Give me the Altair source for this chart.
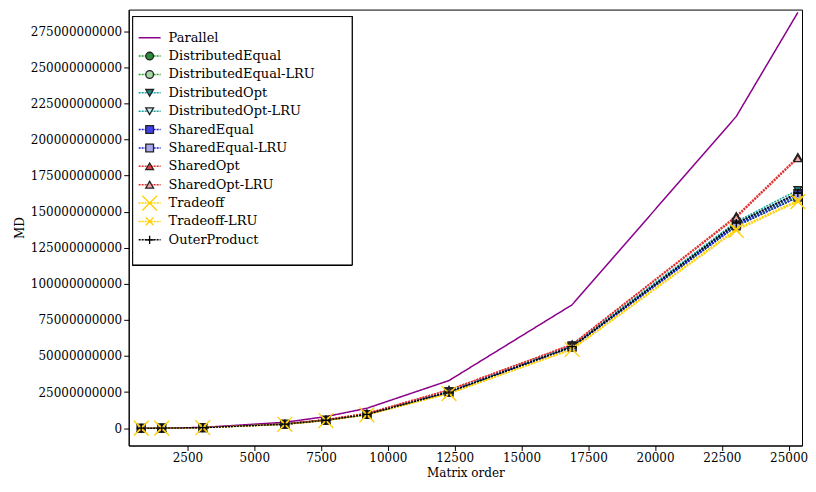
import altair as alt
import pandas as pd

orders = [768, 1536, 3072, 6144, 7680, 9216, 12288, 16896, 23040, 25344]

series = ["Parallel", "DistributedEqual", "DistributedEqual-LRU", "DistributedOpt",
          "DistributedOpt-LRU", "SharedEqual", "SharedEqual-LRU", "SharedOpt",
          "SharedOpt-LRU", "Tradeoff", "Tradeoff-LRU", "OuterProduct"]

values = {
    "Parallel":             [0.008, 0.064, 0.5, 4.1, 8.0, 13.8, 33.0, 85.5, 216.0, 288.0],
    "DistributedEqual":     [0.005, 0.04, 0.35, 2.8, 5.5, 9.5, 25.0, 56.5, 141.0, 161.0],
    "DistributedEqual-LRU": [0.005, 0.04, 0.35, 2.8, 5.5, 9.5, 25.0, 56.5, 140.0, 160.0],
    "DistributedOpt":       [0.005, 0.04, 0.36, 2.9, 5.7, 9.8, 25.5, 57.5, 143.0, 165.0],
    "DistributedOpt-LRU":   [0.005, 0.04, 0.36, 2.9, 5.7, 9.8, 25.5, 57.0, 142.0, 163.0],
    "SharedEqual":          [0.005, 0.04, 0.35, 2.8, 5.5, 9.5, 25.0, 56.5, 141.0, 162.0],
    "SharedEqual-LRU":      [0.005, 0.04, 0.35, 2.8, 5.5, 9.5, 25.0, 56.0, 140.0, 160.0],
    "SharedOpt":            [0.005, 0.04, 0.37, 3.0, 5.9, 10.2, 26.5, 58.0, 147.0, 188.0],
    "SharedOpt-LRU":        [0.005, 0.04, 0.37, 3.0, 5.9, 10.2, 26.5, 58.0, 146.0, 187.0],
    "Tradeoff":             [0.005, 0.04, 0.34, 2.7, 5.3, 9.2, 24.0, 54.5, 137.0, 157.0],
    "Tradeoff-LRU":         [0.005, 0.04, 0.34, 2.7, 5.3, 9.2, 24.0, 55.0, 138.0, 158.0],
    "OuterProduct":         [0.005, 0.04, 0.35, 2.8, 5.5, 9.5, 25.0, 56.5, 142.0, 163.0],
}

X_PATH = "M-1,-1L1,1M1,-1L-1,1"
PLUS_PATH = "M-1,0L1,0M0,-1L0,1"

strokes = ["#8b008b", "#2ca02c", "#2ca02c", "#17a2a2", "#17a2a2", "#1f1fd0", "#1f1fd0",
           "#e03030", "#e03030", "#ffd000", "#ffd000", "#000000"]
fills = ["#8b008b", "#2e8b3e", "#a6d8a6", "#1e8c8c", "#c8eeee", "#4040e8", "#a8a8ee",
         "#e84040", "#f0a8a8", "#ffd000", "#ffd000", "#000000"]
marker_strokes = ["#8b008b", "#222", "#222", "#222", "#222", "#222", "#222",
                  "#222", "#222", "#ffd000", "#ffd000", "#000000"]
shapes = ["stroke", "circle", "circle", "triangle-down", "triangle-down", "square", "square",
          "triangle-up", "triangle-up", X_PATH, X_PATH, PLUS_PATH]
sizes = [0, 60, 60, 60, 60, 60, 60, 60, 60, 220, 60, 70]
dashes = [[1, 0]] + [[2, 1]] * 11

rows = []
for s in series:
    for n, v in zip(orders, values[s]):
        rows.append({"order": n, "md": v * 1e9, "series": s})
df = pd.DataFrame(rows)
leg = pd.DataFrame({"series": series})

font = "DejaVu Serif"
xs = alt.X("order:Q", title="Matrix order", scale=alt.Scale(domain=[300, 25500], nice=False),
           axis=alt.Axis(values=list(range(2500, 25001, 2500)), grid=False, format="d"))
ys = alt.Y("md:Q", title="MD", scale=alt.Scale(domain=[-12e9, 290e9], nice=False),
           axis=alt.Axis(values=[i * 25e9 for i in range(12)], grid=False, format="d"))

color = alt.Color("series:N", scale=alt.Scale(domain=series, range=strokes), legend=None)
dash = alt.StrokeDash("series:N", scale=alt.Scale(domain=series, range=dashes), legend=None)
marker = dict(
    fill=alt.Fill("series:N", scale=alt.Scale(domain=series, range=fills), legend=None),
    shape=alt.Shape("series:N", scale=alt.Scale(domain=series, range=shapes), legend=None),
    stroke=alt.Stroke("series:N", scale=alt.Scale(domain=series, range=marker_strokes), legend=None),
    size=alt.Size("series:N", scale=alt.Scale(type="ordinal", domain=series, range=sizes), legend=None),
)

lines = alt.Chart(df).mark_line(strokeWidth=1.5).encode(x=xs, y=ys, color=color, strokeDash=dash)
points = alt.Chart(df[df.series != "Parallel"]).mark_point(opacity=1, strokeWidth=1.3).encode(
    x=xs, y=ys, **marker)
data_layer = alt.layer(lines, points)

# hand-made legend box (top-left)
ly = alt.Y("series:N", sort=series, scale=alt.Scale(range=[19, 240]), axis=None)
box = alt.Chart(leg).mark_rect(fill="white", stroke="black", strokeWidth=1).encode(
    x=alt.value(4), x2=alt.value(224), y=alt.value(7), y2=alt.value(256))
leg_lines = alt.Chart(leg).mark_rule(strokeWidth=1.5).encode(
    x=alt.value(10), x2=alt.value(32), y=ly, color=color, strokeDash=dash)
leg_marks = alt.Chart(leg[leg.series != "Parallel"]).mark_point(opacity=1, strokeWidth=1.3).encode(
    x=alt.value(21), y=ly, **marker)
leg_text = alt.Chart(leg).mark_text(align="left", baseline="middle", font=font, fontSize=13).encode(
    x=alt.value(40), y=ly, text="series:N")
legend = alt.layer(box, leg_lines, leg_marks, leg_text)

chart = alt.layer(data_layer, legend).resolve_scale(y="independent").properties(
    width=675, height=437, padding={"left": 5, "top": 0, "right": 0, "bottom": 5}
).configure_axis(
    labelFont=font, titleFont=font, labelFontSize=12, titleFontSize=12, labelColor="black",
    titleColor="black", domainColor="black", tickColor="black", titleFontWeight="normal",
).configure_view(stroke="black")

chart.save("out.html", embed_options={"renderer": "svg", "actions": False})
